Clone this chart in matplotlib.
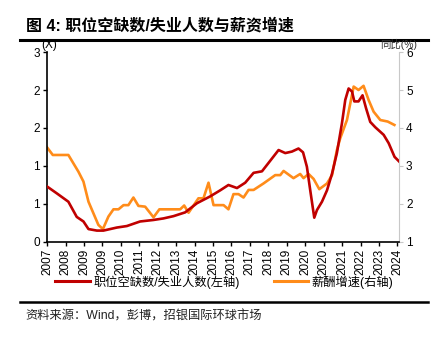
import numpy as np
from matplotlib import pyplot as plt
from matplotlib.lines import Line2D

plt.rcParams['font.family'] = ['Liberation Sans', 'Noto Sans CJK SC', 'DejaVu Sans']

# x tick labels, one every 11 months starting 2007-03
year_labels = ['2007', '2008', '2009', '2009', '2010', '2011', '2012', '2013', '2014', '2015',
               '2016', '2017', '2018', '2019', '2020', '2020', '2021', '2022', '2023', '2024']

# job openings / unemployed (left axis), months since 2007-03
ratio_m = [0, 5.8, 12.7, 17.7, 21.7, 24.7, 29.7, 33.6, 41.6, 47.6, 55.5, 63.5, 69.4, 75.4, 82.4,
           89.4, 97.3, 103.3, 108.2, 113.3, 118.2, 123.2, 128.2, 132.1, 138.1, 142.1, 146.1, 150.0,
           152.7, 155.0, 157.0, 159.4, 161.0, 164.0, 167.0, 170.0, 172.9, 175.9, 177.9, 179.9, 181.9,
           183.3, 185.8, 188.2, 190.3, 192.8, 195.8, 200.8, 203.8, 207.3, 210.0]
ratio = [0.73, 0.64, 0.53, 0.33, 0.27, 0.17, 0.15, 0.15, 0.19, 0.21, 0.27, 0.29, 0.31, 0.34, 0.39,
         0.51, 0.60, 0.68, 0.75, 0.71, 0.78, 0.91, 0.93, 1.04, 1.21, 1.17, 1.19, 1.23,
         1.18, 0.99, 0.68, 0.32, 0.42, 0.53, 0.68, 0.90, 1.17, 1.56, 1.87, 2.02, 1.98,
         1.85, 1.85, 1.93, 1.76, 1.58, 1.51, 1.41, 1.30, 1.12, 1.06]

# wage growth yoy % (right axis)
wage_m = [0, 3.4, 12.7, 18.7, 21.7, 24.7, 27.6, 30.6, 33.3, 36.6, 39.6, 42.6, 45.6, 48.5, 51.5,
          54.5, 58.5, 63.5, 67.0, 79.4, 81.8, 84.4, 90.3, 93.3, 96.3, 99.3, 105.3, 108.2, 111.2,
          114.2, 117.2, 120.2, 123.2, 129.1, 136.1, 139.1, 141.1, 147.0, 151.0, 153.0, 156.0,
          159.0, 162.4, 167.0, 170.0, 172.9, 174.9, 178.9, 182.9, 185.8, 188.8, 191.8, 194.8,
          198.8, 203.2, 207.2]
wage = [3.49, 3.29, 3.29, 2.85, 2.59, 2.06, 1.76, 1.45, 1.34, 1.67, 1.86, 1.86, 1.97, 1.97, 2.17,
        1.95, 1.93, 1.65, 1.86, 1.86, 1.96, 1.77, 2.15, 2.15, 2.56, 1.97, 1.97, 1.86, 2.26,
        2.26, 2.17, 2.37, 2.37, 2.54, 2.76, 2.76, 2.87, 2.68, 2.79, 2.68, 2.79,
        2.66, 2.39, 2.54, 2.76, 3.42, 3.73, 4.21, 5.09, 5.00, 5.11, 4.74, 4.43,
        4.21, 4.17, 4.08]

red = '#C00000'
orange = '#FF8C1A'

fig = plt.figure(figsize=(4.4, 3.46), dpi=100)
ax = fig.add_axes([0.107, 0.3006, 0.8, 0.5491])
ax2 = ax.twinx()

ax.plot(ratio_m, ratio, color=red, lw=1.9, zorder=3)
ax2.plot(wage_m, wage, color=orange, lw=1.9, zorder=2)
ax.set_zorder(ax2.get_zorder() + 1)
ax.patch.set_visible(False)

ax.set_xlim(0, 210)
ax.set_ylim(0, 2.5)
ax2.set_ylim(1, 6)

ax.set_xticks(np.arange(len(year_labels)) * 11)
ax.set_xticklabels(year_labels, rotation=90, fontsize=8.5)
ax.set_yticks(np.arange(0, 2.51, 0.5))
ax.set_yticklabels(['0', '1', '1', '2', '2', '3'], fontsize=8.5)
ax2.set_yticks(np.arange(1, 7))
ax2.set_yticklabels([str(v) for v in range(1, 7)], fontsize=8.5)

for s in ['top', 'right']:
    ax.spines[s].set_visible(False)
ax.spines['left'].set_linewidth(1.2)
ax.spines['bottom'].set_linewidth(1.2)
ax.tick_params(axis='both', length=3, width=1, pad=2, color='black')
for s in ['top', 'left', 'bottom']:
    ax2.spines[s].set_visible(False)
ax2.spines['right'].set_color('#c8c8c8')
ax2.tick_params(axis='y', length=3, color='#c8c8c8', pad=2)

fig.text(0.093, 0.862, '(X)', fontsize=8.5)
fig.text(0.948, 0.862, '同比(%)', fontsize=7.5, ha='right', color='#333333')

fig.text(0.06, 0.925, '图 4: 职位空缺数/失业人数与薪资增速', fontsize=11.5, fontweight='bold', va='center')
fig.add_artist(Line2D([0.045, 0.973], [0.884, 0.884], color='black', lw=2.2))
fig.add_artist(Line2D([0.045, 0.973], [0.127, 0.127], color='black', lw=1.8))

handles = [Line2D([], [], color=red, lw=2.2), Line2D([], [], color=orange, lw=2.2)]
fig.legend(handles, ['职位空缺数/失业人数(左轴)', '薪酬增速(右轴)'], loc='center',
           bbox_to_anchor=(0.51, 0.185), ncol=2, frameon=False, fontsize=8.8,
           handlelength=2.8, columnspacing=2.8, handletextpad=0.3)

fig.text(0.057, 0.085, '资料来源：Wind，彭博，招银国际环球市场', fontsize=8.8, va='center', color='#222222')

fig.savefig('out.png', dpi=100)
